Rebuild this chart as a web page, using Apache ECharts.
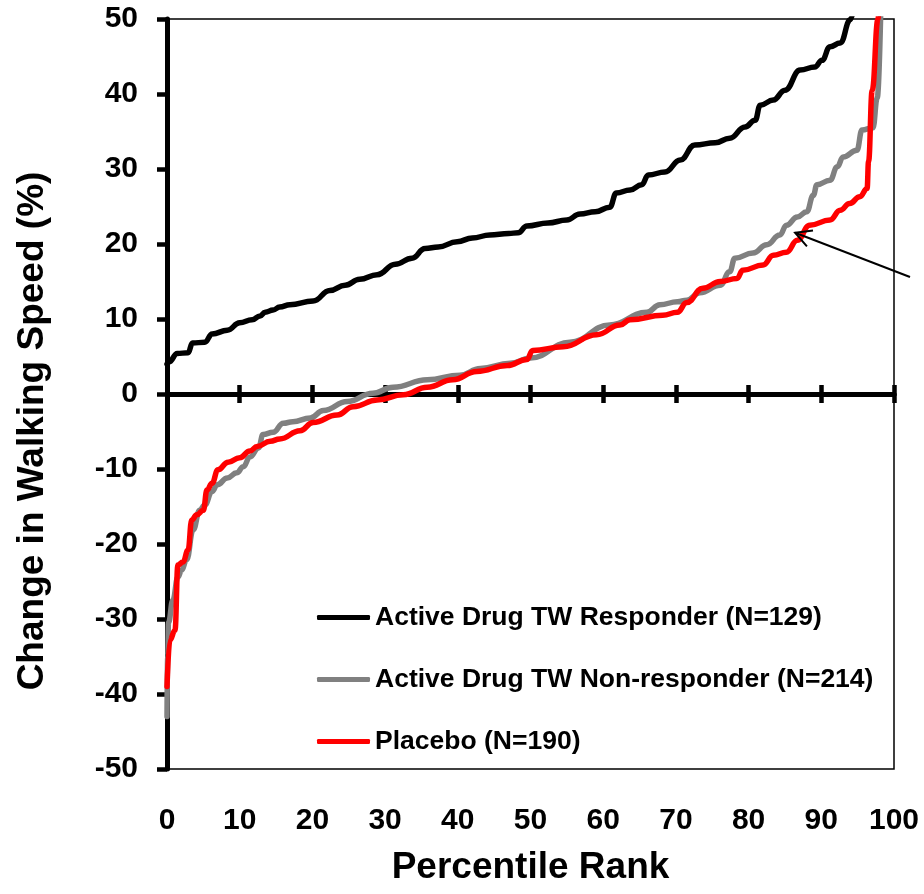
<!DOCTYPE html>
<html>
<head>
<meta charset="utf-8">
<script src="https://cdn.jsdelivr.net/npm/echarts@6/dist/echarts.min.js"></script>
<style>
html,body{margin:0;padding:0;background:#fff;}
#chart{width:924px;height:894px;}
</style>
</head>
<body>
<div id="chart"></div>
<script>
// ---- data (percentile rank, % change in walking speed) ----
const seriesNames = [
  'Active Drug TW Responder (N=129)',
  'Active Drug TW Non-responder (N=214)',
  'Placebo (N=190)'
];
const responder = [
  [0,4.0],[0.3,4.3],[1.4,5.4],[2.9,5.5],[3.5,6.8],[5.2,6.9],[6.2,8.0],[8.3,8.5],[10,9.5],[11.7,9.9],
  [12.8,10.4],[13.5,10.9],[14.6,11.2],[15.5,11.6],[16.9,11.9],[20.1,12.4],[22.4,13.8],[24.5,14.5],
  [26.5,15.3],[28.9,15.9],[31.4,17.3],[33.7,18.1],[35.5,19.4],[37.3,19.6],[39.9,20.3],[42,20.8],
  [44.4,21.2],[47,21.4],[48.3,21.5],[49.5,22.4],[52.4,22.8],[55,23.2],[56.8,24],[58.9,24.3],
  [60.9,24.9],[61.8,26.8],[63.7,27.2],[65.3,27.9],[66.2,29.2],[68.5,29.6],[70.6,31.2],[72.6,33.2],
  [75.4,33.5],[77.4,34.1],[79.5,35.6],[80.9,36.5],[81.6,38.5],[83.4,39.2],[85,40.5],[87.1,43.2],
  [89.1,43.6],[90.1,44.5],[91.2,46.3],[92.6,46.8],[94,49.9],[95,55]
];
const nonResponder = [
  [0,-43],[0.1,-35],[0.2,-30.5],[0.8,-27.5],[1.5,-24.4],[2,-23.5],[2.7,-22.1],[3.6,-18.1],[4.5,-15.5],
  [5.2,-14.8],[6.2,-13],[6.9,-12.1],[8.3,-11.2],[9.6,-10.5],[10.5,-9.7],[11.4,-8.4],[12.6,-7.2],
  [13.2,-5.4],[14.6,-5.1],[16,-3.9],[17.3,-3.7],[19.7,-3.2],[21.5,-2.2],[24.8,-1],[28.3,0.1],
  [31.1,0.9],[35.8,1.9],[40.3,2.5],[43.1,3.4],[47.2,4.1],[50,4.8],[55.4,6.9],[60.9,9.2],[66,10.9],
  [67.8,11.9],[70.2,12.3],[71.5,12.5],[73.3,13.5],[76.1,14.5],[77.4,16.3],[78.1,18.1],[80.6,18.8],
  [82.5,19.9],[84.3,21.2],[85.2,22.5],[86.7,23.6],[88,24.3],[88.9,26.5],[89.4,27.9],[91.2,28.5],
  [92.2,30.3],[93,31.6],[94.9,32.5],[95.6,35.2],[97.1,35.5],[97.7,39.5],[98.2,52]
];
const placebo = [
  [0,-39],[0.4,-32.8],[1.1,-31.5],[1.5,-22.8],[2.2,-22.4],[2.9,-20.8],[3.4,-16.8],[4.1,-16.1],[5,-15.5],
  [5.5,-12.8],[6.2,-11.9],[7,-10.1],[8.4,-9.1],[10,-8.5],[11.4,-7.6],[12.4,-7.0],[14.2,-6.3],[15.5,-6.0],
  [18.3,-4.9],[20.1,-3.8],[23.4,-2.8],[25.6,-1.7],[28.9,-0.8],[32.5,-0.1],[35.8,0.9],[39.3,1.9],
  [42.6,3.0],[46.8,3.8],[49.5,4.6],[50.3,5.8],[54.5,6.3],[59.1,7.9],[62.3,9.2],[63.7,9.9],[68.2,10.5],
  [70.2,10.9],[71.5,12.2],[73.7,14.1],[76.1,15],[78.4,15.4],[79.2,16.5],[82,17.2],[83.4,18.5],
  [85.2,18.9],[86.7,20.5],[88.4,22.5],[91.2,23.2],[92.6,24.5],[93.9,25.4],[95.3,26.3],[96.3,27.4],
  [96.5,31],[97,40.5],[97.8,50],[98,53]
];
// annotation arrow: [tail, head] in data coordinates
const arrowTail = [102.2, 15.6];
const arrowHead = [86.4, 21.5];
const xMin = 0, xMax = 100, xInterval = 10;
const yMin = -50, yMax = 50, yInterval = 10;

const FONT = '"Liberation Sans", Arial, sans-serif';
const chart = echarts.init(document.getElementById('chart'), null, {renderer: 'canvas'});

const gridRect = {left: 167, right: 30, top: 19, bottom: 125};
const axisLineStyle = {color: '#000', width: 5};
const tickStyle = {color: '#000', width: 4.5};

const option = {
  animation: false,
  backgroundColor: '#fff',
  grid: [
    Object.assign({show: true, borderColor: '#000', borderWidth: 1.5, backgroundColor: 'transparent'}, gridRect),
    Object.assign({show: false}, gridRect),
    Object.assign({show: false}, gridRect)
  ],
  xAxis: [
    { // zero line with downward ticks
      gridIndex: 0, type: 'value', position: 'bottom', min: xMin, max: xMax, interval: xInterval,
      axisLine: {show: true, onZero: true, lineStyle: axisLineStyle},
      axisTick: {show: true, inside: false, length: 9, lineStyle: tickStyle},
      axisLabel: {show: false}, splitLine: {show: false}
    },
    { // tick labels and title at the bottom of the box
      gridIndex: 1, type: 'value', position: 'bottom', min: xMin, max: xMax, interval: xInterval,
      axisLine: {show: false, onZero: false}, axisTick: {show: false}, splitLine: {show: false},
      axisLabel: {show: true, margin: 37, color: '#000', fontFamily: FONT, fontWeight: 'bold', fontSize: 30},
      name: 'Percentile Rank', nameLocation: 'middle', nameGap: 80,
      nameTextStyle: {color: '#000', fontFamily: FONT, fontWeight: 'bold', fontSize: 37}
    },
    { // upward half of the crossing ticks on the zero line
      gridIndex: 2, type: 'value', position: 'top', min: xMin, max: xMax, interval: xInterval,
      axisLine: {show: true, onZero: true, lineStyle: axisLineStyle},
      axisTick: {show: true, inside: false, length: 9, lineStyle: tickStyle},
      axisLabel: {show: false}, splitLine: {show: false}
    }
  ],
  yAxis: [
    {
      gridIndex: 0, type: 'value', min: yMin, max: yMax, interval: yInterval,
      axisLine: {show: true, onZero: false, lineStyle: axisLineStyle},
      axisTick: {show: true, inside: false, length: 10, lineStyle: tickStyle},
      axisLabel: {show: true, margin: 29, color: '#000', fontFamily: FONT, fontWeight: 'bold', fontSize: 30},
      splitLine: {show: false},
      name: 'Change in Walking Speed (%)', nameLocation: 'middle', nameGap: 116, nameRotate: 90,
      nameTextStyle: {color: '#000', fontFamily: FONT, fontWeight: 'bold', fontSize: 37, padding: [0, 74, 0, 0]}
    },
    {gridIndex: 1, type: 'value', min: yMin, max: yMax, interval: yInterval, show: false},
    {gridIndex: 2, type: 'value', min: yMin, max: yMax, interval: yInterval, show: false}
  ],
  legend: {
    orient: 'vertical', left: 317, top: 604, padding: 0,
    icon: 'roundRect', itemWidth: 53, itemHeight: 5, itemGap: 35,
    textStyle: {color: '#000', fontFamily: FONT, fontWeight: 'bold', fontSize: 26.5},
    data: seriesNames
  },
  series: [
    {
      name: seriesNames[0], type: 'line', xAxisIndex: 0, yAxisIndex: 0, data: responder,
      symbol: 'none', smooth: 0.45, smoothMonotone: 'x', clip: true,
      lineStyle: {color: '#000000', width: 5.5, cap: 'round', join: 'round'}, itemStyle: {color: '#000000'}
    },
    {
      name: seriesNames[1], type: 'line', xAxisIndex: 0, yAxisIndex: 0, data: nonResponder,
      symbol: 'none', smooth: 0.45, smoothMonotone: 'x', clip: true,
      lineStyle: {color: '#808080', width: 5.5, cap: 'round', join: 'round'}, itemStyle: {color: '#808080'}
    },
    {
      name: seriesNames[2], type: 'line', xAxisIndex: 0, yAxisIndex: 0, data: placebo,
      symbol: 'none', smooth: 0.45, smoothMonotone: 'x', clip: true,
      lineStyle: {color: '#ff0000', width: 5.5, cap: 'round', join: 'round'}, itemStyle: {color: '#ff0000'}
    }
  ]
};
chart.setOption(option);

// annotation arrow, positioned from data coordinates through the chart's own scales
const pTail = chart.convertToPixel({xAxisIndex: 0, yAxisIndex: 0}, arrowTail);
const pHead = chart.convertToPixel({xAxisIndex: 0, yAxisIndex: 0}, arrowHead);
const dx = pTail[0] - pHead[0], dy = pTail[1] - pHead[1];
const len = Math.sqrt(dx * dx + dy * dy);
const ux = dx / len, uy = dy / len;
const headLen = 18, headAng = 28 * Math.PI / 180;
function rot(x, y, a) { return [x * Math.cos(a) - y * Math.sin(a), x * Math.sin(a) + y * Math.cos(a)]; }
const a1 = rot(ux, uy, headAng), a2 = rot(ux, uy, -headAng);
chart.setOption({
  graphic: [
    {type: 'line', z: 100, shape: {x1: pTail[0], y1: pTail[1], x2: pHead[0], y2: pHead[1]},
     style: {stroke: '#000', lineWidth: 2}},
    {type: 'polyline', z: 100, shape: {points: [
      [pHead[0] + a1[0] * headLen, pHead[1] + a1[1] * headLen],
      [pHead[0], pHead[1]],
      [pHead[0] + a2[0] * headLen, pHead[1] + a2[1] * headLen]
    ]}, style: {stroke: '#000', lineWidth: 2, fill: null}}
  ]
});
</script>
</body>
</html>
